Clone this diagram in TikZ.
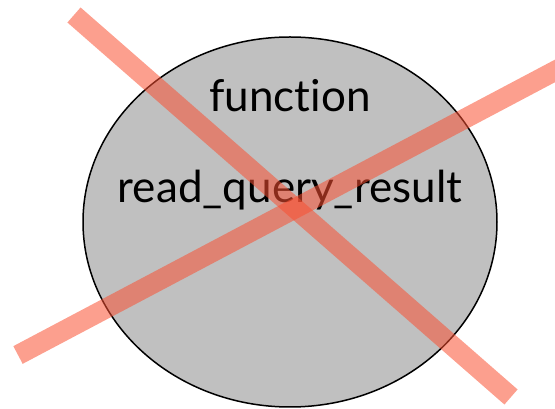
\documentclass[tikz,border=0pt]{standalone}
\usepackage{fontspec}
\setmainfont[Ligatures=NoCommon]{Lato}
\definecolor{ovalgray}{RGB}{192,192,192}
\definecolor{crossred}{RGB}{250,80,50}
\begin{document}
\begin{tikzpicture}[x=1pt,y=1pt,
  label/.style={font=\fontsize{44}{46}\selectfont, inner sep=0pt, anchor=base},
  strike/.style={line width=20pt, draw=crossred, opacity=0.55}]
\useasboundingbox (0,0) rectangle (555,409);
% the function oval
\draw[line width=1.5pt, fill=ovalgray] (290,187) ellipse [x radius=207, y radius=185];
\node[label] (fn) at (290,297) {function};
\node[label] (rq) at (290,206) {read\_query\_result};
% the cross struck through it
\coordinate (a1) at (74,394);
\coordinate (a2) at (511,12);
\coordinate (b1) at (18,54);
\coordinate (b2) at (570,346);
\draw[strike] (a1) -- (a2);
\draw[strike] (b1) -- (b2);
\end{tikzpicture}
\end{document}
